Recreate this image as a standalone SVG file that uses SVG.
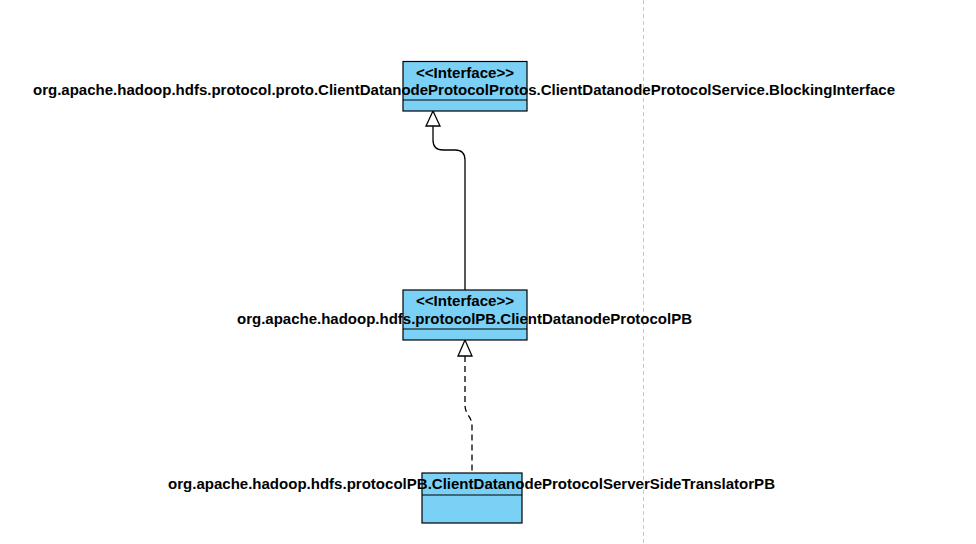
<svg xmlns="http://www.w3.org/2000/svg" width="976" height="544" viewBox="0 0 976 544">
<style>
.box{fill:#7ad0f5;stroke:#000;stroke-width:1.2}
.div{stroke:#000;stroke-width:1.2}
.t{font-family:"Liberation Sans",Arial,sans-serif;font-weight:bold;font-size:14px;fill:#000;text-anchor:middle}
.edge{fill:none;stroke:#000;stroke-width:1.3}
.head{fill:#fff;stroke:#000;stroke-width:1.3}
</style>
<rect width="976" height="544" fill="#fff"/>
<line x1="643.5" y1="0" x2="643.5" y2="544" stroke="#c8c8c8" stroke-width="1" stroke-dasharray="4 3"/>
<g id="edges">
<path class="edge" d="M433,126 L433,140 Q433,150 443,150 L455,150 Q465,150 465,160 L465,290"/>
<polygon class="head" points="433,111 426,126 440,126"/>
<path class="edge" stroke-dasharray="6 4" d="M465,356 L465,405 Q465,410 468,415 Q472,420 472,426 L472,473"/>
<polygon class="head" points="465,340 458,356 472,356"/>
</g>
<g id="n1">
<rect class="box" x="403" y="61.5" width="124" height="49.5"/>
<line class="div" x1="403" y1="100" x2="527" y2="100"/>
<text class="t" x="465" y="77.5" textLength="98" lengthAdjust="spacingAndGlyphs">&lt;&lt;Interface&gt;&gt;</text>
<text class="t" x="464" y="94.5" textLength="862" lengthAdjust="spacingAndGlyphs">org.apache.hadoop.hdfs.protocol.proto.ClientDatanodeProtocolProtos.ClientDatanodeProtocolService.BlockingInterface</text>
</g>
<g id="n2">
<rect class="box" x="403" y="290" width="124" height="50"/>
<line class="div" x1="403" y1="329" x2="527" y2="329"/>
<text class="t" x="465" y="305.5" textLength="98" lengthAdjust="spacingAndGlyphs">&lt;&lt;Interface&gt;&gt;</text>
<text class="t" x="464.5" y="323.5" textLength="455" lengthAdjust="spacingAndGlyphs">org.apache.hadoop.hdfs.protocolPB.ClientDatanodeProtocolPB</text>
</g>
<g id="n3">
<rect class="box" x="422" y="473" width="100" height="50"/>
<line class="div" x1="422" y1="495" x2="522" y2="495"/>
<text class="t" x="471.5" y="488.5" textLength="607" lengthAdjust="spacingAndGlyphs">org.apache.hadoop.hdfs.protocolPB.ClientDatanodeProtocolServerSideTranslatorPB</text>
</g>
</svg>
